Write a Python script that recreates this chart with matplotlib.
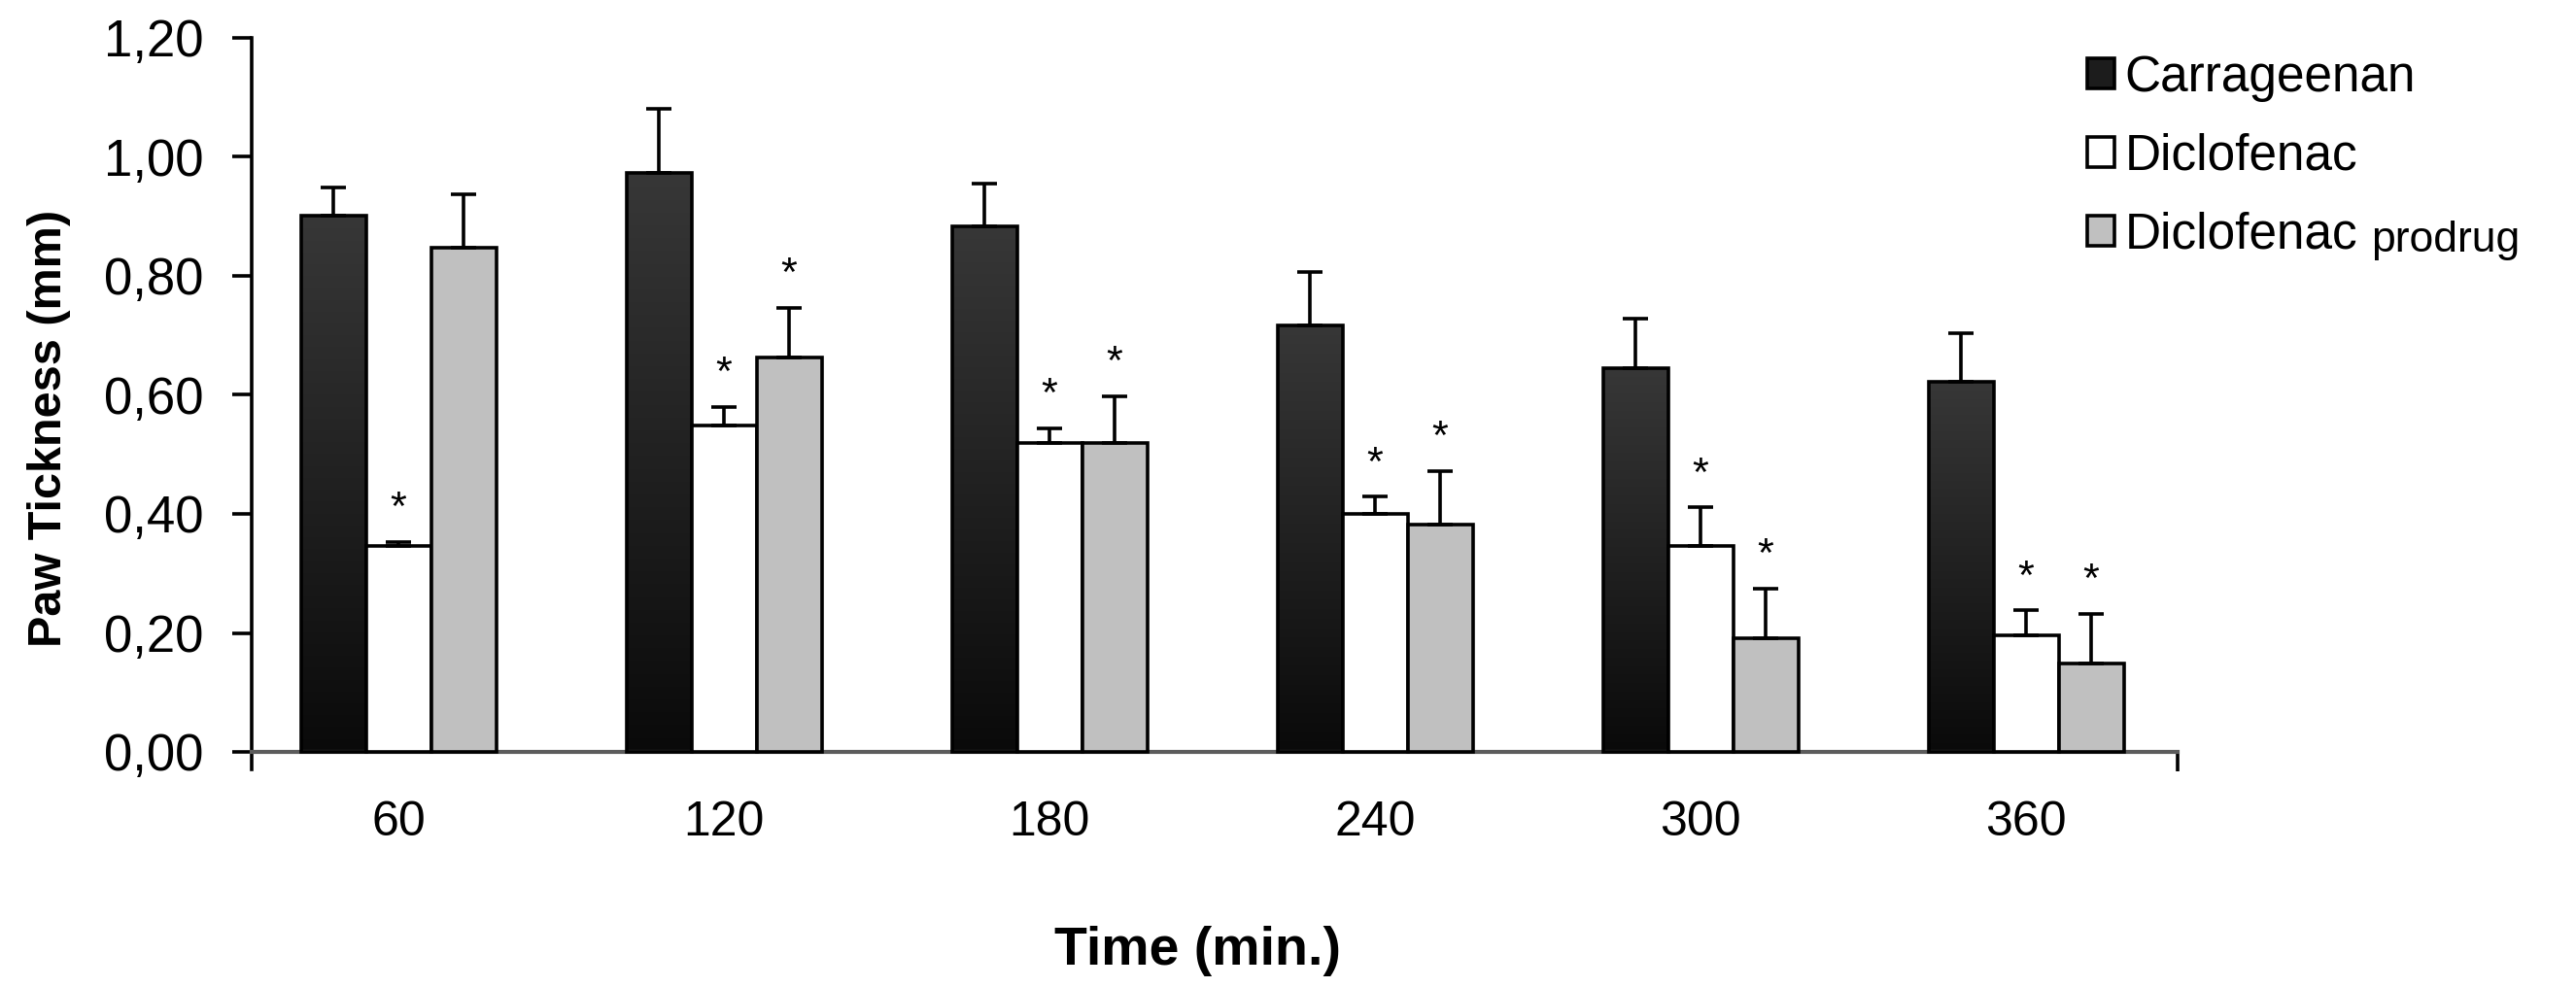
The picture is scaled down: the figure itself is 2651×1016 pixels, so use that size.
import numpy as np
import matplotlib.pyplot as plt
from matplotlib.colors import LinearSegmentedColormap
from matplotlib.patches import Patch

plt.rcParams['font.family'] = ['Liberation Sans', 'DejaVu Sans']

# === DATOS ===
times = ['60', '120', '180', '240', '300', '360']
carrageenan = [0.901, 0.973, 0.883, 0.717, 0.645, 0.622]
carrageenan_top = [0.949, 1.081, 0.955, 0.806, 0.728, 0.703]
diclofenac = [0.346, 0.549, 0.519, 0.400, 0.346, 0.196]
diclofenac_top = [0.353, 0.580, 0.544, 0.429, 0.411, 0.238]
prodrug = [0.847, 0.663, 0.519, 0.382, 0.191, 0.149]
prodrug_top = [0.937, 0.746, 0.598, 0.472, 0.274, 0.232]
star_diclofenac = [True, True, True, True, True, True]
star_prodrug = [False, True, True, True, True, True]
y_ticks = [0.0, 0.2, 0.4, 0.6, 0.8, 1.0, 1.2]
y_tick_labels = ['0,00', '0,20', '0,40', '0,60', '0,80', '1,00', '1,20']

# === FIGURA ===
W, H = 2651, 1016
fig = plt.figure(figsize=(W / 100, H / 100), dpi=100)

# axes placed in pixels: y-axis at x=259, x-axis end at 2241, 1.20 at y=39, 0 at y=774
px_per_unit = (774 - 39) / 1.2
ymin = -0.03
bottom_px = 774 - ymin * px_per_unit
ax = fig.add_axes([259 / W, 1 - bottom_px / H, (2241 - 259) / W, (bottom_px - 39) / H])

x = np.arange(len(times))
width = 0.2
lw = 2.6

bars_c = ax.bar(x - width, carrageenan, width, facecolor='none', edgecolor='black', linewidth=lw, zorder=3)
ax.bar(x, diclofenac, width, facecolor='white', edgecolor='black', linewidth=lw, zorder=3)
ax.bar(x + width, prodrug, width, facecolor='#c0c0c0', edgecolor='black', linewidth=lw, zorder=3)

# degradado vertical en las barras de carragenina
grad_cmap = LinearSegmentedColormap.from_list('dark', ['#0a0a0a', '#373737'])
grad = np.linspace(0, 1, 256).reshape(-1, 1)
for b in bars_c:
    bx, bw, bh = b.get_x(), b.get_width(), b.get_height()
    im = ax.imshow(grad, extent=(bx, bx + bw, 0, bh), origin='lower', cmap=grad_cmap,
                   aspect='auto', zorder=2.5, interpolation='bilinear')
    im.set_clip_path(b)

# barras de error (solo hacia arriba)
for offs, vals, tops in [(-width, carrageenan, carrageenan_top),
                         (0, diclofenac, diclofenac_top),
                         (width, prodrug, prodrug_top)]:
    err = np.array(tops) - np.array(vals)
    ax.errorbar(x + offs, vals, yerr=[np.zeros(len(vals)), err], fmt='none', ecolor='black',
                elinewidth=lw, capsize=9.7, capthick=lw, zorder=4)

# asteriscos
for i in range(len(times)):
    if star_diclofenac[i]:
        ax.text(x[i], diclofenac_top[i] + 0.055, '*', ha='center', va='center', fontsize=31, zorder=5)
    if star_prodrug[i]:
        ax.text(x[i] + width, prodrug_top[i] + 0.055, '*', ha='center', va='center', fontsize=31, zorder=5)

# === EJES ===
xmin_lim = (259 - 410) / 335
xmax_lim = (2241 - 410) / 335
ax.set_xlim(xmin_lim, xmax_lim)
ax.set_ylim(ymin, 1.2)

ax.spines['top'].set_visible(False)
ax.spines['right'].set_visible(False)
ax.spines['left'].set_linewidth(lw)
ax.spines['bottom'].set_position(('data', 0))
ax.spines['bottom'].set_color('#5c5c5c')
ax.spines['bottom'].set_linewidth(3)

ax.set_yticks(y_ticks)
ax.set_yticklabels(y_tick_labels)
ax.tick_params(axis='y', length=14.4, width=lw, pad=21, labelsize=38)

ax.set_xticks(x)
ax.set_xticklabels(times)
ax.tick_params(axis='x', which='major', length=0, pad=36, labelsize=36)
ax.set_xticks([xmax_lim], minor=True)
ax.tick_params(axis='x', which='minor', length=14.4, width=lw, color='black', direction='out')

ax.set_ylabel('Paw Tickness (mm)', fontsize=35, fontweight='bold')
ax.yaxis.set_label_coords(-0.094, 0.466)
ax.set_xlabel('Time (min.)', fontsize=40, fontweight='bold')
ax.xaxis.set_label_coords(0.491, -0.213)

# === LEYENDA ===
handles = [Patch(facecolor='#1c1c1c', edgecolor='black', linewidth=lw),
           Patch(facecolor='white', edgecolor='black', linewidth=lw),
           Patch(facecolor='#c0c0c0', edgecolor='black', linewidth=lw)]
leg = fig.legend(handles, ['Carrageenan', 'Diclofenac', 'Diclofenac'],
                 loc='upper left', bbox_to_anchor=(2148 / W, 1 - 56 / H),
                 frameon=False, fontsize=37, borderpad=0, borderaxespad=0,
                 handlelength=0.55, handleheight=0.55, handletextpad=0.2,
                 labelspacing=0.62)

# "prodrug" más pequeño, a continuación de la tercera etiqueta
fig.canvas.draw()
bb = leg.get_texts()[2].get_window_extent()
fig.text((bb.x1 + 14) / W, (bb.y0 - 1) / H, 'prodrug', ha='left', va='bottom', fontsize=32)

fig.savefig('out.png', dpi=100)
